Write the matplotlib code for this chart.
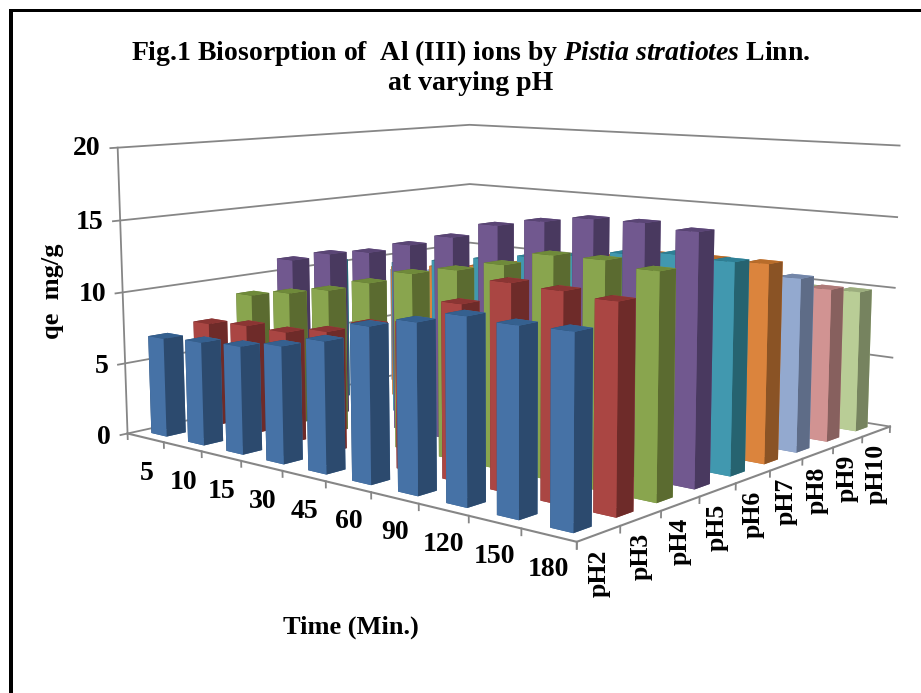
import matplotlib
matplotlib.use('Agg')
import matplotlib.pyplot as plt
from matplotlib.patches import Rectangle
from mpl_toolkits.mplot3d import proj3d

plt.rcParams['font.family'] = ['Liberation Serif']
plt.rcParams['font.weight'] = 'bold'
plt.rcParams['mathtext.fontset'] = 'custom'
plt.rcParams['mathtext.it'] = 'Liberation Serif:italic:bold'
plt.rcParams['mathtext.rm'] = 'Liberation Serif:bold'

times = ['5', '10', '15', '30', '45', '60', '90', '120', '150', '180']
series = ['pH2', 'pH3', 'pH4', 'pH5', 'pH6', 'pH7', 'pH8', 'pH9', 'pH10']
z_ticks = [0, 5, 10, 15, 20]

ph2 = [6.9, 7.1, 7.3, 7.8, 8.6, 10.0, 10.7, 11.5, 11.4, 11.5]
ph3 = [7.4, 7.7, 7.7, 8.2, 9.1, 9.6, 11.3, 13.0, 12.9, 12.7]
ph4 = [8.95, 9.5, 10.1, 11.0, 12.0, 12.6, 13.3, 14.25, 14.3, 14.0]
ph5 = [11.1, 11.9, 12.35, 13.2, 14.05, 15.15, 15.7, 16.15, 16.2, 15.95]
ph6 = [10.6, 10.9, 11.1, 11.6, 12.1, 12.6, 13.0, 13.5, 13.8, 13.7]
ph7 = [9.6, 10.0, 10.4, 10.8, 11.4, 11.9, 12.5, 13.0, 13.1, 13.15]
ph8 = [9.0, 9.3, 9.6, 10.0, 10.4, 10.8, 11.2, 11.5, 11.7, 11.75]
ph9 = [8.0, 8.3, 8.6, 9.0, 9.3, 9.7, 10.0, 10.2, 10.4, 10.55]
ph10 = [7.5, 7.8, 8.0, 8.3, 8.6, 8.9, 9.2, 9.5, 9.8, 9.9]
values = [ph2, ph3, ph4, ph5, ph6, ph7, ph8, ph9, ph10]

# front face, top face, side face
colors = [('#4672A6', '#35608F', '#2C4A6E'),
          ('#AA4643', '#8B3533', '#6E2B29'),
          ('#89A54E', '#6F8A3A', '#5B6B30'),
          ('#71588F', '#5A4575', '#49395F'),
          ('#4198AF', '#2E7F95', '#266370'),
          ('#DB843D', '#B86C2A', '#8A5325'),
          ('#93A9CF', '#7386A8', '#5E6C87'),
          ('#D19392', '#AE7A78', '#87605E'),
          ('#B9CD96', '#9CAD7E', '#76835F')]

W, H = 921, 693
GREY = '#868686'
BAR = 0.42

fig = plt.figure(figsize=(W / 100, H / 100), dpi=100)
side = 800
cx, cy = 501.25, 300.89
ax = fig.add_axes([(cx - side / 2) / W, 1 - (cy + side / 2) / H, side / W, side / H], projection='3d')
ax.set_xlim(0, 10)
ax.set_ylim(0, 9)
ax.set_zlim(0, 20)
ax.view_init(8.689, -49.94)
ax.set_proj_type('persp', focal_length=0.3979)
ax.set_box_aspect((0.9781, 0.8902, 0.4907), zoom=1)
ax.set_axis_off()
ax.patch.set_alpha(0)
ax.computed_zorder = False


def label(x, y, z, text, **kw):
    # flat text pinned to a point of the 3d box
    px, py, _ = proj3d.proj_transform(x, y, z, ax.get_proj())
    ax.text2D(px, py, text, transform=ax.transData, zorder=500, **kw)


nx, ny = len(times), len(series)

# walls
for t in z_ticks:
    ax.plot([0, 0, nx], [-0.15, ny, ny], [t, t, t], color=GREY, lw=1.3, zorder=0)
    label(0, -0.35, t, str(t), ha='right', va='center', fontsize=20)
ax.plot([0, 0], [0, 0], [0, 20], color=GREY, lw=1.3, zorder=0)

# floor edges and their ticks
ax.plot([0, nx, nx], [0, 0, ny], [0, 0, 0], color=GREY, lw=1.5, zorder=0)
for i in range(nx + 1):
    ax.plot([i, i], [0, 0], [0, -0.4], color=GREY, lw=1.3, zorder=0)
for j in range(ny + 1):
    ax.plot([nx, nx], [j, j], [0, -0.4], color=GREY, lw=1.3, zorder=0)

# bars, far ones first
order = 1
for j in range(ny - 1, -1, -1):
    front, top, dark = colors[j]
    for i in range(nx):
        faces = [top, top, front, front, dark, dark]
        ax.bar3d(i + (1 - BAR) / 2, j + (1 - BAR) / 2, 0, BAR, BAR, values[j][i],
                 color=faces, shade=False, linewidth=0, zorder=order)
        order += 1

for i, name in enumerate(times):
    label(i + 0.5, 0, -2.55 + 0.06 * i, name, ha='center', va='center', fontsize=20)
for j, name in enumerate(series):
    label(nx, j + 0.5, -0.9, name, ha='center', va='top', rotation=90, fontsize=18.5)

fig.text(471 / W, 1 - 53 / H, r'Fig.1 Biosorption of  Al (III) ions by $\mathit{Pistia\ stratiotes}$ Linn.',
         ha='center', va='center', fontsize=20)
fig.text(471 / W, 1 - 84 / H, 'at varying pH', ha='center', va='center', fontsize=20)
fig.text(52 / W, 1 - 291 / H, 'qe  mg/g', rotation=90, ha='center', va='center', fontsize=19)
fig.text(351 / W, 1 - 627 / H, 'Time (Min.)', ha='center', va='center', fontsize=19)

# black frame, open at the bottom and on the right
fig.add_artist(Rectangle((9 / W, 0), 4 / W, 1 - 9 / H, transform=fig.transFigure, color='black', lw=0))
fig.add_artist(Rectangle((9 / W, 1 - 12 / H), 1 - 9 / W, 3 / H, transform=fig.transFigure, color='black', lw=0))

fig.savefig('out.png', dpi=100)
